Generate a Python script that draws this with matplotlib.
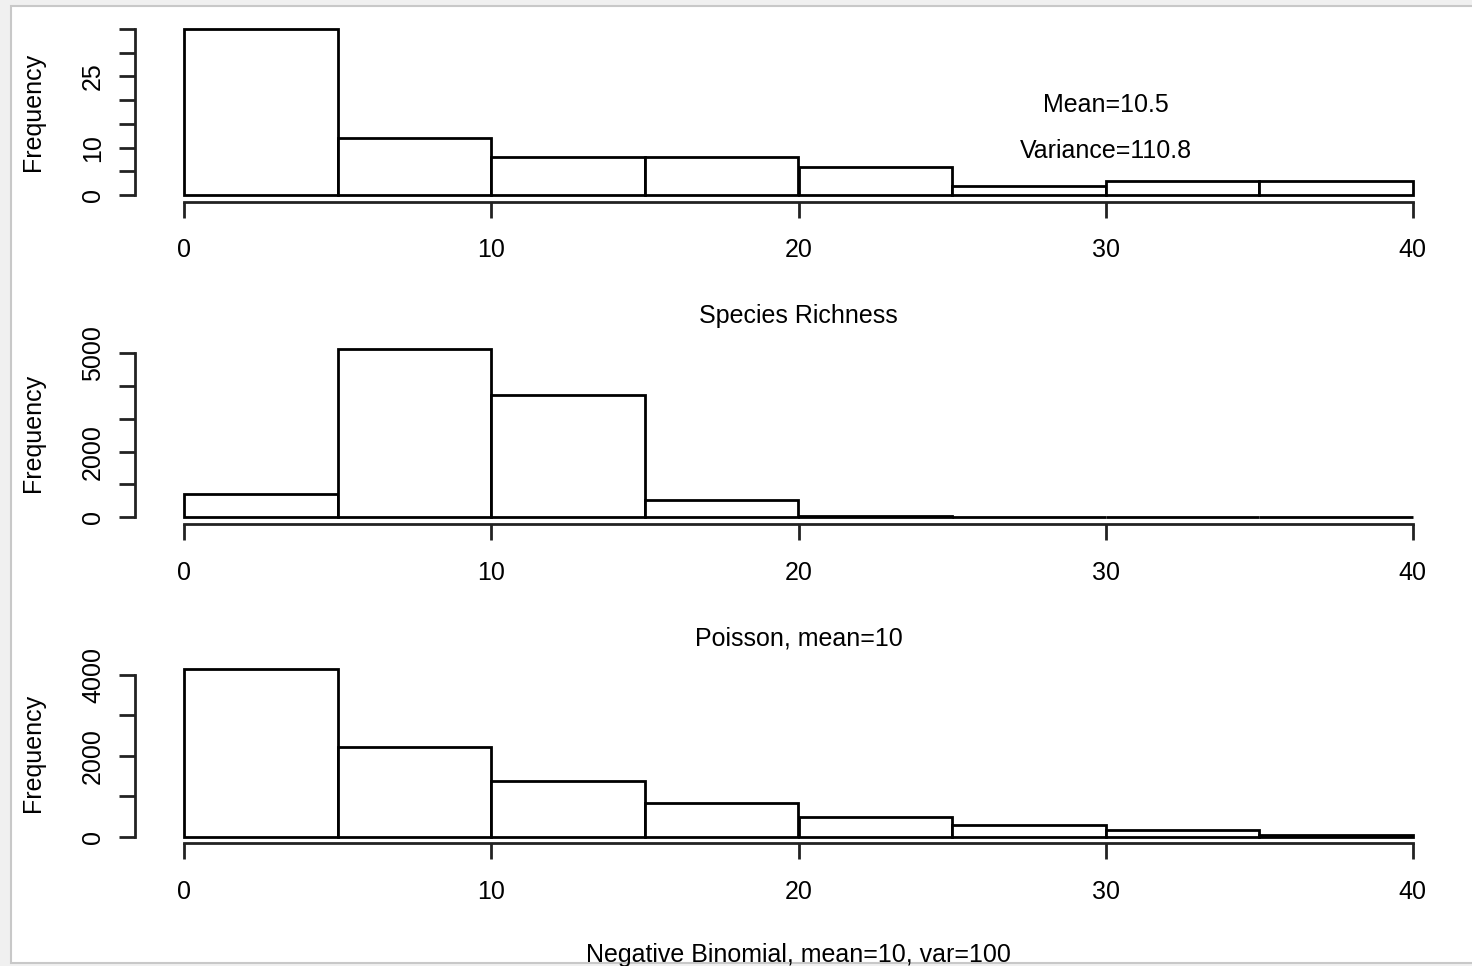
import numpy as np
import matplotlib
matplotlib.use("Agg")
import matplotlib.pyplot as plt
from matplotlib.patches import Rectangle

plt.rcParams['font.family'] = ['Liberation Sans', 'DejaVu Sans']

# ヒストグラムの区切り (幅5)
breaks = np.arange(0, 45, 5)

# 各パネルの度数
richness_counts = [35, 12, 8, 8, 6, 2, 3, 3]
poisson_counts = [700, 5130, 3720, 520, 50, 0, 0, 0]
negbin_counts = [4140, 2210, 1380, 835, 495, 290, 165, 50]

titles = ["Species Richness", "Poisson, mean=10", "Negative Binomial, mean=10, var=100"]
yticks_all = [np.arange(0, 40, 5), np.arange(0, 6000, 1000), np.arange(0, 5000, 1000)]
ylabels_shown = [[0, 10, 25], [0, 2000, 5000], [0, 2000, 4000]]
xticks = [0, 10, 20, 30, 40]

W, H = 1472, 966
fig = plt.figure(figsize=(W / 100, H / 100), dpi=100)
fig.patch.set_facecolor("#f0f0f0")
fig.patches.append(Rectangle((11 / W, 3 / H), 1, (H - 9) / H, transform=fig.transFigure,
                             facecolor="white", edgecolor="#c8c8c8", lw=1.5, zorder=-10))

# 各パネルの y 方向ピクセル位置 (0 の位置, 最大値の位置)
panels_pix = [(195, 29), (517.3, 349), (836.7, 669.3)]
x_left, x_right = 135, 1462
fs = 18

all_counts = [richness_counts, poisson_counts, negbin_counts]
for i, counts in enumerate(all_counts):
    p0, pm = panels_pix[i]
    span = p0 - pm
    bot = p0 + 0.04 * span
    top = pm - 0.04 * span
    ax = fig.add_axes([x_left / W, 1 - bot / H, (x_right - x_left) / W, (bot - top) / H])
    ax.set_facecolor("none")
    cmax = max(counts)
    ax.set_xlim(-1.6, 41.6)
    ax.set_ylim(-0.04 * cmax, 1.04 * cmax)
    ax.bar(breaks[:-1], counts, width=5, align='edge', facecolor='white',
           edgecolor='black', linewidth=2)

    for s in ['top', 'right']:
        ax.spines[s].set_visible(False)
    ax.spines['left'].set_bounds(yticks_all[i][0], yticks_all[i][-1])
    ax.spines['bottom'].set_bounds(0, 40)
    for s in ['left', 'bottom']:
        ax.spines[s].set_linewidth(2)
        ax.spines[s].set_color('#222222')

    ax.set_xticks(xticks)
    ax.set_xticklabels([str(t) for t in xticks])
    ax.set_yticks(yticks_all[i])
    ax.set_yticklabels([str(t) if t in ylabels_shown[i] else "" for t in yticks_all[i]],
                       rotation=90, va='center')
    ax.tick_params(axis='both', length=11.5, width=2, color='#222222', labelsize=fs)
    ax.tick_params(axis='x', pad=15)
    ax.tick_params(axis='y', pad=10)
    ax.set_ylabel("Frequency", fontsize=fs, labelpad=26)
    ax.set_xlabel(titles[i], fontsize=fs, labelpad=28 if i == 2 else 30)

    if i == 0:
        ax.text(30, 19, "Mean=10.5", ha='center', va='center', fontsize=fs)
        ax.text(30, 9.3, "Variance=110.8", ha='center', va='center', fontsize=fs)

fig.savefig("out.png", dpi=100)
